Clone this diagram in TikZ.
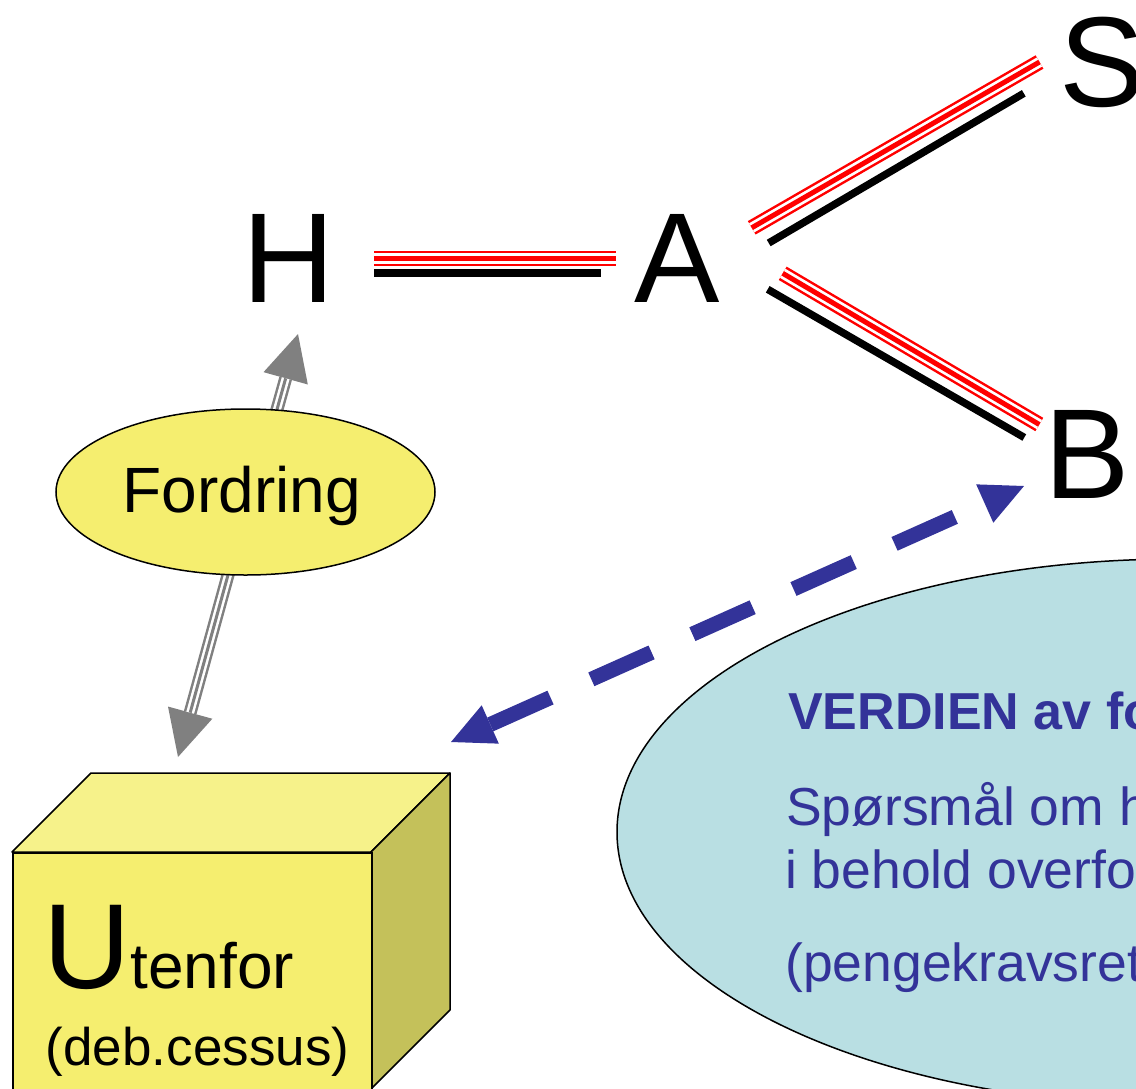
\documentclass[tikz,border=0pt]{standalone}
\usepackage{fontspec}
\setmainfont{Liberation Sans}
\usetikzlibrary{arrows.meta,shapes.geometric}
\definecolor{yfront}{HTML}{F5EE6F}
\definecolor{ytop}{HTML}{F6F28A}
\definecolor{yside}{HTML}{C4C15A}
\definecolor{lblue}{HTML}{B9DFE3}
\definecolor{navy}{HTML}{333399}
\definecolor{arrgray}{HTML}{808080}
\newcommand\fsz[1]{\fontsize{#1}{#1}\selectfont}
\begin{document}
\begin{tikzpicture}[x=1pt,y=-1pt,
  letter/.style={inner sep=0pt, font=\fsz{128}},
  redtriple/.style={draw=red,line width=15.5pt,
    postaction={draw=white,line width=10.5pt},
    postaction={draw=red,line width=5pt}},
  blackbar/.style={draw=black,line width=7.5pt},
  outline/.style={draw=black,line width=1.5pt},
  grayouter/.style={draw=arrgray,line width=13pt,-{Triangle[length=46pt,width=46pt,line width=0pt]}},
  graywhite/.style={draw=white,line width=8pt,shorten >=46pt},
  grayinner/.style={draw=arrgray,line width=3pt,shorten >=46pt},
  bluedash/.style={draw=navy,line width=15pt,dash pattern=on 66pt off 44.7pt,
    {Triangle[length=43pt,width=42pt,line width=0pt]}-{Triangle[length=43pt,width=42pt,line width=0pt]}},
  vtext/.style={inner sep=0pt,text=navy,anchor=base west}
]
\useasboundingbox (0,0) rectangle (1136,1088);
\clip (0,0) rectangle (1136,1088);

% 3D box
\filldraw[fill=ytop, outline, line join=round] (12,852) -- (91,773) -- (450,773) -- (371,852) -- cycle;
\filldraw[fill=yside, outline, line join=round] (371,852) -- (450,773) -- (450,1010) -- (371,1089) -- cycle;
\node[outline, fill=yfront, minimum width=359pt, minimum height=237pt, inner sep=0pt, anchor=north west] (box) at (12,852) {};
\node[inner sep=0pt, anchor=base west] (utenfor) at (43,988) {\fsz{121}U\fsz{64}tenfor};
\node[inner sep=0pt, anchor=base] (deb) at (197.5,1065) {\fsz{53}(deb.cessus)};

% big ellipse
\node[outline, ellipse, fill=lblue, minimum width=1120pt, minimum height=546pt, inner sep=0pt] (verd) at (1177,832) {};
\node[vtext] (v1) at (788,729) {\fsz{52}\bfseries VERDIEN av fo};
\node[vtext] (v2) at (786,825) {\fsz{53.5}Spørsmål om h};
\node[vtext] (v3) at (785,888) {\fsz{53.5}i behold overfo};
\node[vtext] (v4) at (785,981) {\fsz{53.5}(pengekravsret};

% blue dashed double arrow
\coordinate (blL) at (451,742);
\coordinate (blR) at (1024,486);
\draw[bluedash] (blL) -- (blR);

% gray arrows
\coordinate (upS) at (271.7,428.5);
\coordinate (upT) at (298,334);
\coordinate (dnS) at (232.3,559.4);
\coordinate (dnT) at (178,757);
\draw[grayouter] (upS) -- (upT);
\draw[graywhite] (upS) -- (upT);
\draw[grayinner] (upS) -- (upT);
\draw[grayouter] (dnS) -- (dnT);
\draw[graywhite] (dnS) -- (dnT);
\draw[grayinner] (dnS) -- (dnT);

% Fordring ellipse
\node[outline, ellipse, fill=yfront, minimum width=379pt, minimum height=166pt, inner sep=0pt] (ford) at (245.5,492) {};
\node[inner sep=0pt, anchor=base] (fordtxt) at (242,512) {\fsz{64}Fordring};

% letters
\node[letter, anchor=base] (H) at (289,302) {H};
\node[letter, anchor=base] (A) at (677.5,302) {A};
\node[letter, anchor=base west] (S) at (1059,106) {S};
\node[letter, anchor=base west] (B) at (1044,498) {B};

% H - A
\coordinate (ha1) at (374,258.5);
\coordinate (ha2) at (616,258.5);
\coordinate (hb1) at (374,273.3);
\coordinate (hb2) at (601,273.3);
\draw[redtriple] (ha1) -- (ha2);
\draw[blackbar, line width=8pt] (hb1) -- (hb2);

% A - S
\coordinate (as1) at (751.7,227.8);
\coordinate (as2) at (1039.5,62);
\coordinate (asb1) at (768.7,243);
\coordinate (asb2) at (1023.8,93.3);
\draw[redtriple] (as1) -- (as2);
\draw[blackbar] (asb1) -- (asb2);

% A - B
\coordinate (ab1) at (782.7,273.3);
\coordinate (ab2) at (1039.3,424.5);
\coordinate (abb1) at (767.7,289.3);
\coordinate (abb2) at (1024.3,437.5);
\draw[redtriple] (ab1) -- (ab2);
\draw[blackbar] (abb1) -- (abb2);
\end{tikzpicture}
\end{document}
